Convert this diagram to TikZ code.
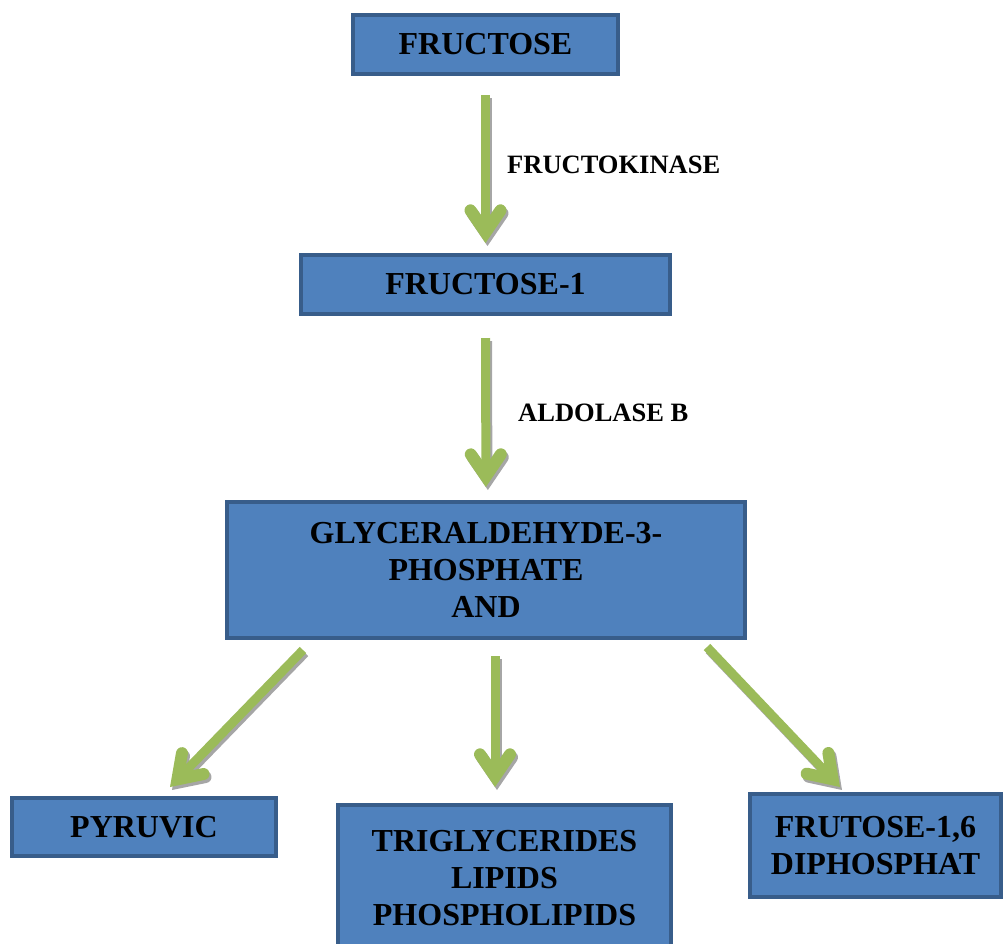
\documentclass[tikz,border=0pt]{standalone}
\usepackage{fontspec}
\setmainfont{Liberation Serif}
\usetikzlibrary{arrows.meta,calc}
\definecolor{boxfill}{HTML}{4F81BD}
\definecolor{boxline}{HTML}{385D8A}
\definecolor{arrowgreen}{HTML}{9BBB59}
\definecolor{shadowgray}{HTML}{A6A6A6}
% green arrow with a grey drop shadow
\newcommand{\flowarrow}[3][]{%
	\draw[flow,draw=shadowgray,#1,transform canvas={shift={(2pt,-3pt)}}] #2 -- #3;
	\draw[flow,#1] #2 -- #3;}

\begin{document}
\begin{tikzpicture}[x=1pt,y=-1pt,
		box/.style={draw=boxline,fill=boxfill,line width=4pt,inner sep=0pt,align=center,
			font=\fontsize{32}{37}\selectfont\bfseries},
		enzyme/.style={anchor=west,inner sep=0pt,font=\fontsize{26.5}{30}\selectfont\bfseries},
		flow/.style={draw=arrowgreen,line width=9pt,
			-{Straight Barb[length=22pt,width=30pt,line width=12pt,line cap=round,line join=miter]}}]
		\useasboundingbox (0,0) rectangle (1003,943);
		\clip (0,0) rectangle (1003,943);
		\node[box,minimum width=265pt,minimum height=59pt] (fructose) at (485.5,44.5) {FRUCTOSE};
		\node[box,minimum width=369pt,minimum height=59pt] (fructoseone) at (485.5,284.5) {FRUCTOSE-1};
		\node[box,minimum width=518pt,minimum height=136pt] (glyc) at (486,570) {GLYCERALDEHYDE-3-\\PHOSPHATE\\AND};
		\node[box,minimum width=264pt,minimum height=58pt] (pyruvic) at (144,827) {PYRUVIC};
		\node[box,minimum width=333pt,minimum height=146pt] (trig) at (504.5,878) {TRIGLYCERIDES\\LIPIDS\\PHOSPHOLIPIDS};
		\node[box,minimum width=251pt,minimum height=103pt] (frudi) at (875.5,845.5) {FRUTOSE-1,6\\DIPHOSPHAT};
		\node[enzyme] (kinase) at (507,165) {FRUCTOKINASE};
		\node[enzyme] (aldolase) at (518,413) {ALDOLASE B};
		
		\flowarrow[shorten <=19pt,shorten >=10pt]{(fructose)}{(fructoseone)}
		\flowarrow[shorten <=22pt,shorten >=13pt]{(fructoseone)}{(glyc)}
		\flowarrow{($(glyc.south west)+(78,10)$)}{($(pyruvic.north)+(26,-9)$)}
		\flowarrow[shorten <=16pt,shorten >=16pt]{([xshift=9pt]glyc.south)}{([xshift=-9.5pt]trig.north)}
		\flowarrow{($(glyc.south east)+(-40,7)$)}{($(frudi.north)+(-35.5,-5)$)}
\end{tikzpicture}
\end{document}
